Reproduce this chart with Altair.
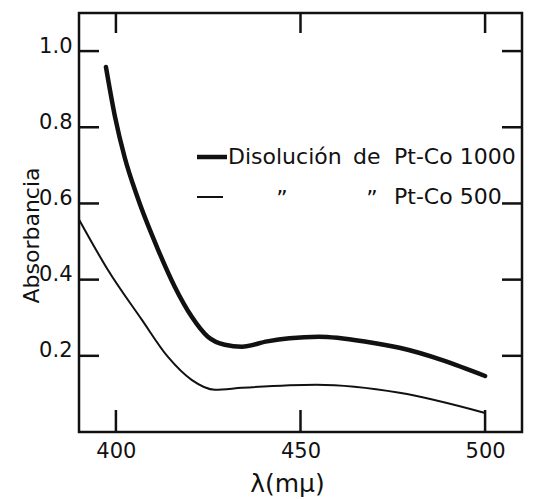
import altair as alt
import pandas as pd

# ---- data ----
wl_1000 = [397.3, 399.7, 402.4, 405.7, 411.4, 415.9, 420.5, 424.9, 429.5, 434.1, 441, 447, 455, 467.8, 476.8, 500]
abs_1000 = [0.958, 0.83, 0.72, 0.62, 0.479, 0.382, 0.303, 0.25, 0.229, 0.224, 0.238, 0.246, 0.25, 0.237, 0.221, 0.147]

wl_500 = [390, 397.8, 407, 414.1, 420.5, 426.8, 434.1, 454.3, 476.8, 500]
abs_500 = [0.558, 0.426, 0.295, 0.197, 0.137, 0.111, 0.116, 0.124, 0.103, 0.05]

x_ticks = [400, 450, 500]
y_ticks = [0.2, 0.4, 0.6, 0.8, 1.0]
legend_words = ["Disolución", "de", "Pt-Co 1000", "\u201d", "\u201d", "Pt-Co 500"]

FONT = "DejaVu Sans"
INK = "#111111"
W, H = 443, 419

d1000 = pd.DataFrame({"wl": wl_1000, "a": abs_1000})
d500 = pd.DataFrame({"wl": wl_500, "a": abs_500})
dxt = pd.DataFrame({"wl": x_ticks})
dyt = pd.DataFrame({"a": y_ticks})

xs = alt.Scale(domain=[390, 510], nice=False, zero=False)
ys = alt.Scale(domain=[0, 1.1], nice=False, zero=False)

x_axis = alt.Axis(values=x_ticks, tickSize=0, domain=False, grid=False, labelFont=FONT,
                  labelFontSize=21, labelColor=INK, labelPadding=8, title="λ(mμ)",
                  titleFont=FONT, titleFontSize=25, titleFontWeight="normal", titleColor=INK,
                  titleX=208, titleY=59, titleBaseline="alphabetic")
y_axis = alt.Axis(values=y_ticks, tickSize=0, domain=False, grid=False, format=".1f",
                  labelFont=FONT, labelFontSize=21, labelColor=INK, labelPadding=7,
                  labelOffset=-5, title="Absorbancia", titleFont=FONT, titleFontSize=22,
                  titleFontWeight="normal", titleColor=INK, titleX=-41, titleY=222,
                  titleAngle=270, titleAlign="center", titleBaseline="alphabetic")

line1000 = alt.Chart(d1000).mark_line(interpolate="monotone", color=INK, strokeWidth=4.5,
                                      strokeCap="round").encode(
    x=alt.X("wl:Q", scale=xs, axis=x_axis),
    y=alt.Y("a:Q", scale=ys, axis=y_axis),
)
line500 = alt.Chart(d500).mark_line(interpolate="monotone", color=INK, strokeWidth=2).encode(
    x=alt.X("wl:Q", scale=xs),
    y=alt.Y("a:Q", scale=ys),
)

tick_style = dict(color=INK, strokeWidth=2.5)
left_t = alt.Chart(dyt).mark_rule(**tick_style).encode(
    y=alt.Y("a:Q", scale=ys), x=alt.value(0), x2=alt.value(20))
right_t = alt.Chart(dyt).mark_rule(**tick_style).encode(
    y=alt.Y("a:Q", scale=ys), x=alt.value(W - 20), x2=alt.value(W))
bottom_t = alt.Chart(dxt).mark_rule(**tick_style).encode(
    x=alt.X("wl:Q", scale=xs), y=alt.value(H - 22), y2=alt.value(H))
top_t = alt.Chart(dxt).mark_rule(**tick_style).encode(
    x=alt.X("wl:Q", scale=xs), y=alt.value(0), y2=alt.value(20))

# legend
one = pd.DataFrame({"k": [0]})
leg_thick = alt.Chart(one).mark_rule(color=INK, strokeWidth=4.5).encode(
    x=alt.value(118), x2=alt.value(148), y=alt.value(144))
leg_thin = alt.Chart(one).mark_rule(color=INK, strokeWidth=2).encode(
    x=alt.value(118), x2=alt.value(144), y=alt.value(184))


def word(txt, x, y, align="left"):
    return alt.Chart(one).mark_text(font=FONT, fontSize=22, color=INK, align=align,
                                    baseline="middle").encode(
        x=alt.value(x), y=alt.value(y), text=alt.value(txt))


texts = [
    word(legend_words[0], 149, 144),
    word(legend_words[1], 274, 144),
    word(legend_words[2], 315, 144),
    word(legend_words[3], 203, 186, "center"),
    word(legend_words[4], 293, 186, "center"),
    word(legend_words[5], 315, 184),
]

chart = alt.layer(line1000, line500, left_t, right_t, bottom_t, top_t, leg_thick, leg_thin, *texts).properties(
    width=W, height=H,
    autosize=alt.AutoSizeParams(type="none"),
    padding={"left": 71, "top": 5, "right": 7, "bottom": 70},
    background="white",
).configure_view(stroke=INK, strokeWidth=2.5)

chart.save("out.html", embed_options={"renderer": "svg", "actions": False})
